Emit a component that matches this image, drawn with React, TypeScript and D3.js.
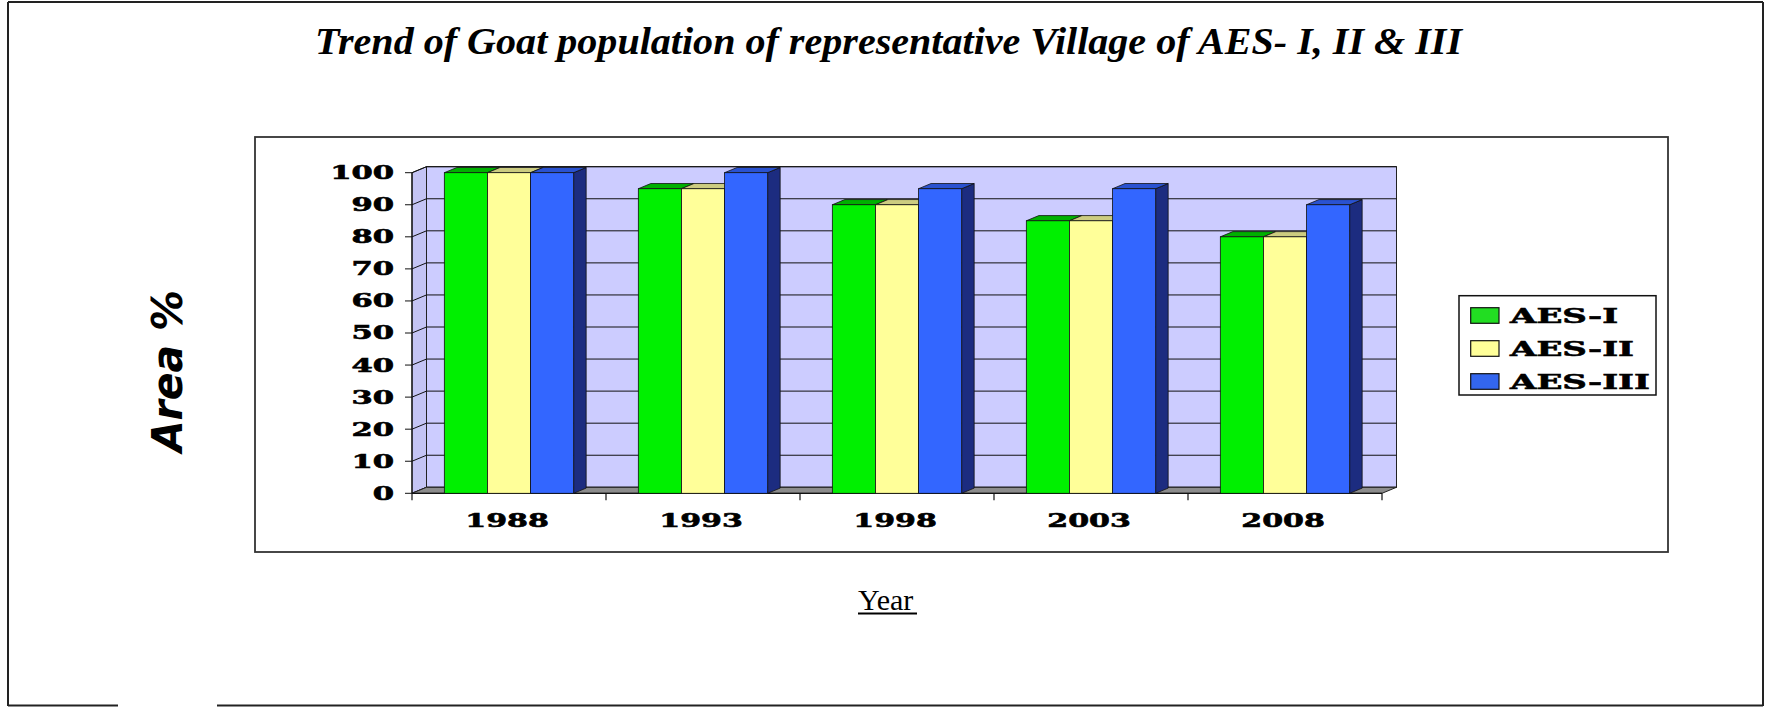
import React from "react";
import * as d3 from "d3";

const categories = ["1988", "1993", "1998", "2003", "2008"];
const seriesNames = ["AES-I", "AES-II", "AES-III"];
const aes1 = [100, 95, 90, 85, 80];
const aes2 = [100, 95, 90, 85, 80];
const aes3 = [100, 100, 95, 95, 90];
const yTicks = [0, 10, 20, 30, 40, 50, 60, 70, 80, 90, 100];

const seriesValues = [aes1, aes2, aes3];
const frontColors = ["#00f000", "#ffff99", "#3366ff"];
const topColors = ["#00b000", "#cccc80", "#2a52d0"];
const sideColors = ["#008800", "#a0a060", "#1c2c80"];
const legendColors = ["#22dd22", "#ffff99", "#3366ee"];

const W = 1766;
const H = 707;

export default function App() {
  const x0 = d3.scaleBand<string>().domain(categories).range([412, 1382]);
  const x1 = d3
    .scaleBand<string>()
    .domain(seriesNames)
    .range([0, x0.bandwidth()])
    .paddingInner(0)
    .paddingOuter(0.75);
  const y = d3.scaleLinear().domain([0, 100]).range([493.3, 172.7]);

  const DX = 14.5;
  const DY = 6;
  const BDX = 12.5;
  const BDY = 5.2;

  const [xl, xr] = x0.range();
  const y0 = y(0);
  const y100 = y(100);

  const pts = (a: number[][]) => a.map((p) => p.join(",")).join(" ");

  const bars: React.ReactNode[] = [];
  categories.forEach((c, i) => {
    seriesNames.forEach((s, j) => {
      const v = seriesValues[j][i];
      const x = (x0(c) as number) + (x1(s) as number);
      const w = x1.bandwidth();
      const yt = y(v);
      bars.push(
        <g key={`${c}-${s}`}>
          <polygon
            points={pts([
              [x + w, yt],
              [x + w + BDX, yt - BDY],
              [x + w + BDX, y0 - BDY],
              [x + w, y0],
            ])}
            fill={sideColors[j]}
            stroke="#111"
            strokeWidth={0.8}
          />
          <polygon
            points={pts([
              [x, yt],
              [x + w, yt],
              [x + w + BDX, yt - BDY],
              [x + BDX, yt - BDY],
            ])}
            fill={topColors[j]}
            stroke="#111"
            strokeWidth={0.8}
          />
          <rect
            x={x}
            y={yt}
            width={w}
            height={y0 - yt}
            fill={frontColors[j]}
            stroke="#111"
            strokeWidth={0.8}
          />
        </g>
      );
    });
  });

  return (
    <svg
      width={W}
      height={H}
      style={{ position: "fixed", left: 0, top: 0, display: "block", background: "#fff" }}
    >
      {/* outer frame */}
      <g stroke="#222" strokeWidth={2} fill="none">
        <line x1={8} y1={2} x2={1763} y2={2} />
        <line x1={8} y1={2} x2={8} y2={706} />
        <line x1={1763} y1={2} x2={1763} y2={706} />
        <line x1={8} y1={705.5} x2={118} y2={705.5} />
        <line x1={217} y1={705.5} x2={1763} y2={705.5} />
      </g>

      {/* title */}
      <text
        x={315}
        y={54.3}
        fontFamily="'Liberation Serif', 'Times New Roman', serif"
        fontWeight="bold"
        fontStyle="italic"
        fontSize={38}
        textLength={1147}
        lengthAdjust="spacingAndGlyphs"
        fill="#000"
      >
        Trend of Goat population of representative Village of AES- I, II &amp; III
      </text>

      {/* chart frame */}
      <rect x={255} y={137} width={1413} height={415} fill="#fff" stroke="#333" strokeWidth={1.8} />

      {/* back wall */}
      <rect
        x={xl + DX}
        y={y100 - DY}
        width={xr - xl}
        height={y0 - y100}
        fill="#ccccff"
        stroke="#222"
        strokeWidth={1}
      />
      {/* left wall */}
      <polygon
        points={pts([
          [xl, y0],
          [xl, y100],
          [xl + DX, y100 - DY],
          [xl + DX, y0 - DY],
        ])}
        fill="#c4c4f4"
        stroke="#222"
        strokeWidth={1}
      />
      {/* gridlines */}
      <g stroke="#111" strokeWidth={1}>
        {yTicks.map((t) => (
          <g key={t}>
            <line x1={xl + DX} x2={xr + DX} y1={y(t) - DY} y2={y(t) - DY} />
            <line x1={xl} x2={xl + DX} y1={y(t)} y2={y(t) - DY} />
            <line x1={xl - 7} x2={xl} y1={y(t)} y2={y(t)} />
          </g>
        ))}
      </g>
      {/* floor */}
      <polygon
        points={pts([
          [xl, y0],
          [xr, y0],
          [xr + DX, y0 - DY],
          [xl + DX, y0 - DY],
        ])}
        fill="#8c8c8c"
        stroke="#222"
        strokeWidth={1}
      />
      {/* axis lines */}
      <line x1={xl} x2={xl} y1={y100} y2={y0} stroke="#111" strokeWidth={1.2} />
      <line x1={xl} x2={xr} y1={y0} y2={y0} stroke="#111" strokeWidth={1.2} />
      {categories.concat(["end"]).map((c, i) => {
        const xx = i < categories.length ? (x0(c) as number) : xr;
        return <line key={c} x1={xx} x2={xx} y1={y0} y2={y0 + 7} stroke="#111" strokeWidth={1.2} />;
      })}

      {/* bars */}
      {bars}

      {/* y tick labels */}
      {yTicks.map((t) => (
        <text
          key={t}
          transform={`translate(394,${y(t)}) scale(1.7,1)`}
          dy="0.36em"
          textAnchor="end"
          fontFamily="'DejaVu Serif', serif"
          fontWeight="bold"
          fontSize={18}
          fill="#000"
          stroke="#000"
          strokeWidth={0.6}
        >
          {t}
        </text>
      ))}

      {/* x labels */}
      {categories.map((c) => (
        <text
          key={c}
          transform={`translate(${(x0(c) as number) + x0.bandwidth() / 2 - 2},527.3) scale(1.58,1)`}
          textAnchor="middle"
          fontFamily="'DejaVu Serif', serif"
          fontWeight="bold"
          fontSize={19}
          fill="#000"
          stroke="#000"
          strokeWidth={0.6}
        >
          {c}
        </text>
      ))}

      {/* y axis title */}
      <text
        transform="translate(181.7,371) rotate(-90)"
        textAnchor="middle"
        fontFamily="'DejaVu Sans', Verdana, sans-serif"
        fontWeight="bold"
        fontStyle="italic"
        fontSize={42}
        textLength={162}
        lengthAdjust="spacingAndGlyphs"
        fill="#000"
      >
        Area %
      </text>

      {/* x axis title */}
      <text
        x={858}
        y={610}
        fontFamily="'Liberation Serif', 'Times New Roman', serif"
        fontSize={30}
        fill="#000"
      >
        Year
      </text>
      <line x1={858} x2={917} y1={613.5} y2={613.5} stroke="#000" strokeWidth={2} />

      {/* legend */}
      <rect x={1459} y={295.7} width={197} height={99.3} fill="#fff" stroke="#111" strokeWidth={1.5} />
      {seriesNames.map((s, j) => {
        const top = 307.7 + j * 33;
        return (
          <g key={s}>
            <rect x={1470.7} y={top} width={28.3} height={15.6} fill={legendColors[j]} stroke="#111" strokeWidth={1.2} />
            <text
              transform={`translate(1510,${top + 15.6}) scale(1.62,1)`}
              fontFamily="'DejaVu Serif', serif"
              fontWeight="bold"
              fontSize={21}
              fill="#000"
              stroke="#000"
              strokeWidth={0.6}
            >
              {s}
            </text>
          </g>
        );
      })}
    </svg>
  );
}
